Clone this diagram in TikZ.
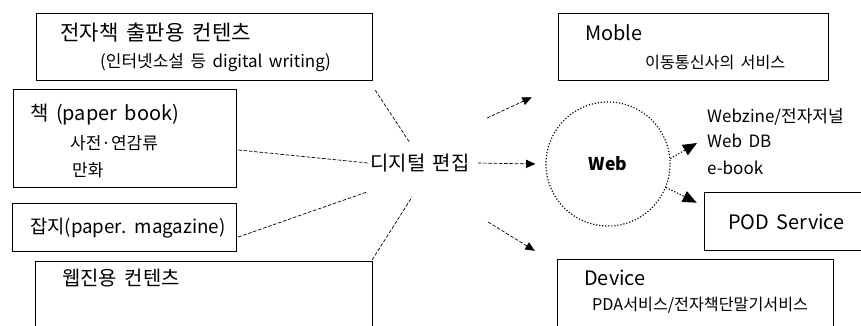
\documentclass[tikz,border=0pt]{standalone}
\usepackage{fontspec}
\setmainfont{Noto Sans CJK KR}[WordSpace=1.7]
\usetikzlibrary{arrows.meta,fit,calc}

\begin{document}
\begin{tikzpicture}[x=0.03cm, y=-0.03cm, >={Triangle[length=8pt,width=7pt]},
    box/.style={draw, line width=0.5pt, inner sep=0pt},
    frame/.style={inner sep=0pt},
    big/.style={anchor=west, inner sep=0pt, font=\fontsize{17}{20}\selectfont},
    small/.style={anchor=west, inner sep=0pt, font=\fontsize{14.5}{17}\selectfont},
    tiny/.style={anchor=west, inner sep=0pt, font=\fontsize{13.8}{16}\selectfont},
    link/.style={line width=0.6pt, dash pattern=on 3pt off 1.5pt},
    dots/.style={line width=1pt, dash pattern=on 1pt off 1.6pt}]
    \useasboundingbox (0,0) rectangle (861,325);

    % contents on the left
    \node[box, fit={(36,13) (372,80)}] (ebook) {};
    \node[big, font=\fontsize{18}{21}\selectfont] (ebooktitle) at (60,33) {전자책 출판용 컨텐츠};
    \node[small] (ebooksub) at (100,63) {(인터넷소설 등 digital writing)};

    \node[box, fit={(13,89) (236,187)}] (book) {};
    \node[big] (booktitle) at (30,115) {책 (paper book)};
    \node[small] (dict) at (70,143) {사전·연감류};
    \node[small] (comic) at (72,170) {만화};

    \node[box, fit={(12,203) (236,251)}] (mag) {};
    \node[big, font=\fontsize{16}{19}\selectfont] (magtitle) at (30,228) {잡지(paper. magazine)};

    \node[frame, fit={(36,262) (372,327)}] (webc) {};
    \draw[line width=0.5pt] (webc.south west) -- (webc.north west)
        -- (webc.north east) -- (webc.south east);
    \node[big] (webctitle) at (62,278) {웹진용 컨텐츠};

    % editing
    \node[big, anchor=center] (edit) at (420,163) {디지털 편집};

    \draw[link] ($(ebook.south east)+(3,10)$) -- ($(edit.center)+(-10,-20)$);
    \draw[link] ($(book.east)+(2,12)$) -- ($(edit.west)+(-2,0)$);
    \draw[link] ($(mag.east)+(2,10)$) -- ($(edit.center)+(-53,29)$);
    \draw[link] ($(webc.north east)+(0,-2)$) -- ($(edit.center)+(-8,34)$);

    % services on the right
    \node[box, fit={(558,13) (828,80)}] (mobile) {};
    \node[big] (mobtitle) at (585,33) {Moble};
    \node[tiny] (mobsub) at (645,62) {이동통신사의 서비스};

    \node[circle, draw, dots, minimum size=3.72cm, inner sep=0pt,
        font=\bfseries\fontsize{15}{17}\selectfont] (web) at (608,164) {Web};

    \node[small] (webzine) at (707,117) {Webzine/전자저널};
    \node[small] (webdb) at (707,141) {Web DB};
    \node[small] (ebookt) at (707,168) {e-book};

    \node[frame, fit={(705,193) (863,250)}] (pod) {};
    \draw[line width=0.5pt] (pod.north east) -- (pod.north west)
        -- (pod.south west) -- (pod.south east);
    \node[big] (podtitle) at (728,222) {POD Service};

    \node[frame, fit={(558,260) (833,327)}] (device) {};
    \draw[line width=0.5pt] (device.south west) -- (device.north west)
        -- (device.north east) -- (device.south east);
    \node[big] (devtitle) at (584,278) {Device};
    \node[tiny] (devsub) at (592,305) {PDA서비스/전자책단말기서비스};

    \draw[link, ->] ($(edit.center)+(67,-45)$) -- ($(mobile.south west)+(-26,17)$);
    \draw[link, ->] ($(edit.east)+(8,0)$) -- ($(web.west)+(-10,0)$);
    \draw[link, ->] ($(edit.center)+(68,59)$) -- ($(device.north west)+(-23,-9)$);

    \draw[dots, -{Triangle[length=12pt,width=10pt]}] (web.5) -- ($(webdb.west)+(-10,2)$);
    \draw[dots, -{Triangle[length=12pt,width=10pt]}] (web.-22) -- ($(pod.north west)+(-8,10)$);
\end{tikzpicture}
\end{document}
